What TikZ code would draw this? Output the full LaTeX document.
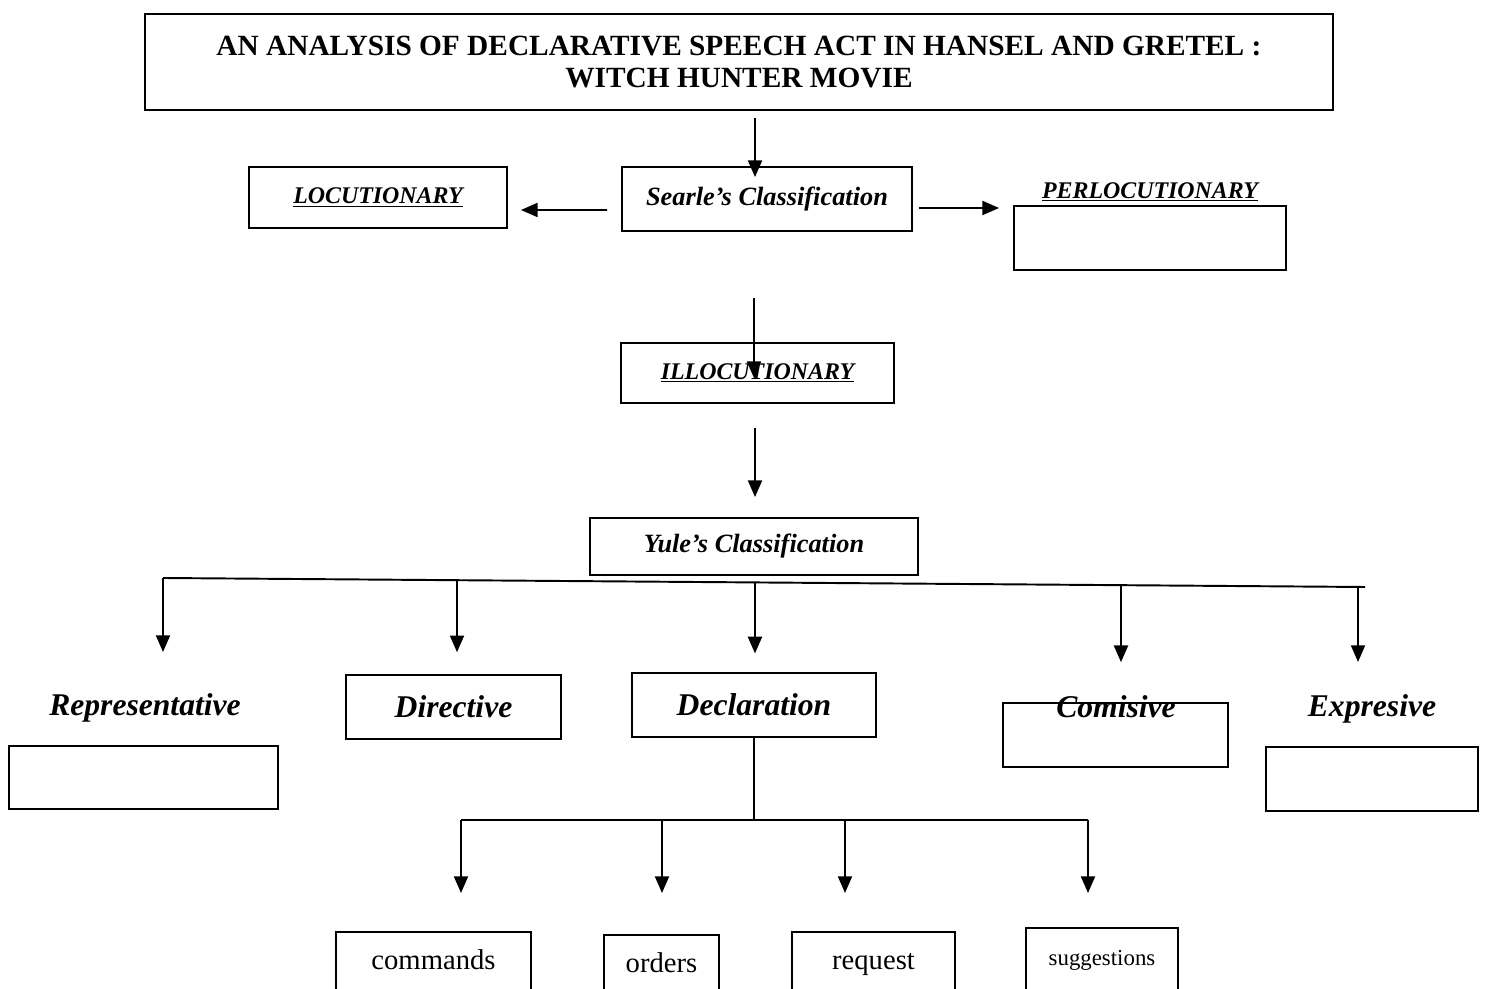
\documentclass[tikz,border=0pt]{standalone}
\usepackage{fontspec}
\setmainfont{Liberation Serif}
\usetikzlibrary{calc,arrows.meta}

\begin{document}
\begin{tikzpicture}[x=0.02cm,y=-0.02cm,
			box/.style={draw,line width=1.1pt,inner sep=0pt},
			arr/.style={line width=1.1pt,-{Triangle[length=9.5pt,width=8pt]}},
			lin/.style={line width=1.1pt},
			hd/.style={font=\fontsize{13.6}{16}\selectfont\bfseries\itshape},
			cls/.style={font=\fontsize{15}{18}\selectfont\bfseries\itshape},
			kind/.style={font=\fontsize{18}{21}\selectfont\bfseries\itshape},
			subtxt/.style={font=\fontsize{16.3}{19}\selectfont,text height=11.5pt,text depth=7pt}]
			\useasboundingbox (0,0) rectangle (1485,989);
			\clip (0,0) rectangle (1485,989);
			
			\node[box,align=center,minimum width=23.76cm,minimum height=1.92cm,font=\fontsize{16.7}{18.7}\selectfont\bfseries] (title) at (739,62) {AN ANALYSIS OF DECLARATIVE SPEECH ACT IN HANSEL AND GRETEL :\\WITCH HUNTER MOVIE};
			
			\node[box,cls,minimum width=5.8cm,minimum height=1.28cm] (searle) at (767,199) {Searle's Classification};
			\node[box,hd,minimum width=5.16cm,minimum height=1.22cm] (loc) at (378,197.5) {\underline{LOCUTIONARY}};
			\node[box,minimum width=5.44cm,minimum height=1.28cm] (perlbox) at (1150,238) {};
			\node[hd] (perl) at (1150,192) {\underline{PERLOCUTIONARY}};
			\node[box,hd,minimum width=5.46cm,minimum height=1.2cm] (illoc) at (757.5,373) {\underline{ILLOCUTIONARY}};
			\node[box,cls,minimum width=6.56cm,minimum height=1.14cm] (yule) at (754,546.5) {Yule's Classification};
			
			\node[kind] (repr) at (145,708) {Representative};
			\node[box,minimum width=5.38cm,minimum height=1.26cm] (reprbox) at (143.5,777.5) {};
			\node[box,kind,minimum width=4.3cm,minimum height=1.28cm] (dir) at (453.5,707) {Directive};
			\node[box,kind,minimum width=4.88cm,minimum height=1.28cm] (decl) at (754,705) {Declaration};
			\node[box,minimum width=4.5cm,minimum height=1.28cm] (comibox) at (1115.5,735) {};
			\node[kind] (comi) at (1116,707) {Comisive};
			\node[kind] (expr) at (1372,709) {Expresive};
			\node[box,minimum width=4.24cm,minimum height=1.28cm] (exprbox) at (1372,779) {};
			
			\node[box,subtxt,minimum width=3.9cm,minimum height=1.36cm] (cmd) at (433.5,966) {commands};
			\node[box,subtxt,minimum width=2.3cm,minimum height=1.36cm] (ord) at (661.5,969) {orders};
			\node[box,subtxt,minimum width=3.26cm,minimum height=1.36cm] (req) at (873.5,966) {request};
			\node[box,subtxt,minimum width=3.04cm,minimum height=1.36cm,font=\fontsize{13}{16}\selectfont] (sug) at (1102,962) {suggestions};
			
			\draw[arr] ([shift={(16,7)}]title.south) -- ([shift={(-12,11)}]searle.north);
			\draw[arr] ([shift={(-14,11)}]searle.west) -- ([shift={(13,12.5)}]loc.east);
			\draw[arr] ([shift={(6,9)}]searle.east) -- ([shift={(-14,-30)}]perlbox.west);
			\draw[arr] ([shift={(-13,66)}]searle.south) -- ([shift={(-3.5,36)}]illoc.north);
			\draw[arr] ([shift={(-2.5,24)}]illoc.south) -- ([shift={(1,-20)}]yule.north);
			
			\coordinate (busL) at (163,578);
			\coordinate (busR) at (1365,587);
			\draw[lin] (busL) -- (busR);
			\draw[arr] (busL) -- ++(0,74);
			\draw[arr] ($(busL)!0.2446!(busR)$) -- ++(0,72);
			\draw[arr] ($(busL)!0.4925!(busR)$) -- ++(0,71);
			\draw[arr] ($(busL)!0.797!(busR)$) -- ++(0,77);
			\draw[arr] ($(busL)!0.9942!(busR)$) -- ++(0,75);
			
			\coordinate (hub) at (754,820);
			\coordinate (subL) at (461,820);
			\coordinate (subR) at (1088,820);
			\draw[lin] (decl.south) -- (hub);
			\draw[lin] (subL) -- (subR);
			\foreach \dx in {0,201,384,627}
				\draw[arr] ($(subL)+(\dx,0)$) -- ++(0,73);
			\end{tikzpicture}
\end{document}
